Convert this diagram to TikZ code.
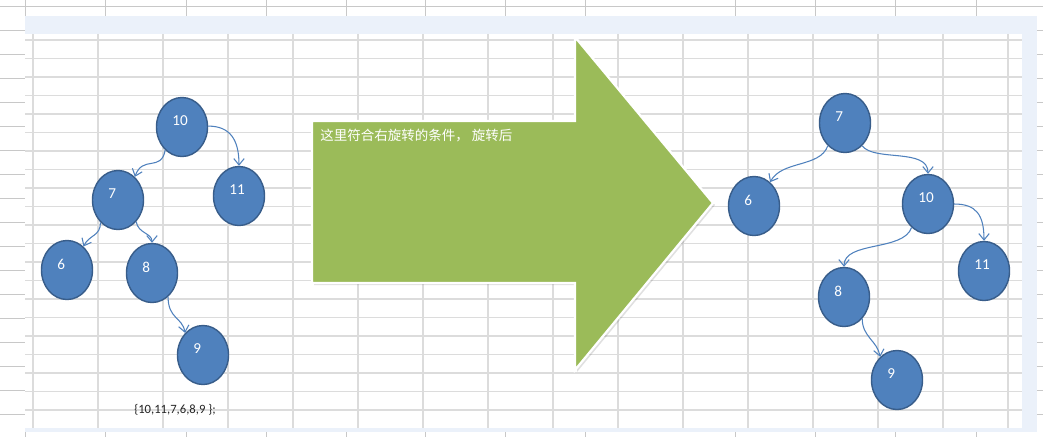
\documentclass[tikz,border=0pt]{standalone}
\usepackage{fontspec}
\setmainfont{Carlito}
\newfontfamily\cjkfont{Noto Sans CJK SC}
\usepackage{xcolor}
\usetikzlibrary{arrows.meta,positioning,shapes.geometric}
\definecolor{nodeblue}{HTML}{4F81BD}
\definecolor{nodeedge}{HTML}{385D8A}
\definecolor{arrowgreen}{HTML}{9BBB59}
\definecolor{gridline}{HTML}{DCDCDC}
\definecolor{sheetline}{HTML}{C8C8C8}
\definecolor{bandblue}{HTML}{EBF1FA}
\definecolor{listink}{HTML}{262626}
\tikzset{
  treenode/.style={ellipse,draw=nodeedge,fill=nodeblue,line width=1pt,
                   minimum width=1.275cm,minimum height=1.475cm,
                   text width=13.6pt,align=left,text depth=8.5pt,
                   text=white,font=\fontsize{10.8}{12}\selectfont},
  treeedge/.style={-{Straight Barb[length=1.6mm,width=2.6mm]},
                   line width=0.75pt,draw=nodeblue},
  bigarrow/.style={fill=arrowgreen,draw=white,line width=1.6pt,
                   line join=miter},
  notetext/.style={text=white,anchor=west,inner sep=0pt,
                   font=\cjkfont\fontsize{9.6}{11}\selectfont},
  listtext/.style={text=listink,inner sep=0pt,
                   font=\fontsize{9}{11}\selectfont},
  gridrule/.style={draw=gridline,line width=1pt},
  sheetrule/.style={draw=sheetline,line width=0.6pt}
}
\begin{document}
\begin{tikzpicture}[x=0.025cm,y=-0.025cm]
    \path[use as bounding box] (0,0) rectangle (1043,437);

    % sheet around the print area
    \foreach \gy in {6,30,...,414}
      \draw[sheetrule] (0,\gy) -- (1043,\gy);
    \foreach \gx in {25,105,186,266,346,425,505,585,735,815,895,976}
      \draw[sheetrule] (\gx,0) -- (\gx,437);
    \fill[bandblue] (25,16) rectangle (1037,432);
    \fill[white] (25,34) rectangle (1022,428);
    \foreach \k in {0,...,15}
      \draw[gridrule] ({33+65*\k},34) -- ({33+65*\k},428);
    \foreach \k in {0,...,20}
      \draw[gridrule] (25,{40+18.5*\k}) -- (1022,{40+18.5*\k});

    % tree before rotation
    \node[treenode] (l10) at (182,127) {10};
    \node[treenode] (l7)  at (118,200) {7};
    \node[treenode] (l11) at (239,196) {11};
    \node[treenode] (l6)  at (67,270)  {6};
    \node[treenode] (l8)  at (152,273) {8};
    \node[treenode] (l9)  at (203,355) {9};
    \draw[treeedge] (l10.234) .. controls +(-4,22) and +(8,-22) .. (l7.54);
    \draw[treeedge] (l10.2) .. controls +(22,0) and +(0,-26) .. (l11.90);
    \draw[treeedge] (l7.232) .. controls +(0,14) and +(6,-12) .. (l6.55);
    \draw[treeedge] (l7.310) .. controls +(2,12) and +(0,-10) .. (l8.90);
    \draw[treeedge] (l8.304) .. controls +(0,22) and +(-3,-16) .. (l9.129);
    \node[listtext] (order) at (175,410) {\{10,11,7,6,8,9 \};};

    % big arrow
    \fill[black,opacity=0.12] (314,123) -- (577,123) -- (577,39) -- (715,205)
      -- (577,372) -- (577,285) -- (314,285) -- cycle;
    \draw[bigarrow] (312,121) -- (575,121) -- (575,37) -- (713,203)
      -- (575,370) -- (575,283) -- (312,283) -- cycle;
    \node[notetext] (cond) at (320,136) {这里符合右旋转的条件， 旋转后};

    % tree after rotation
    \node[treenode] (r7)  at (845,123) {7};
    \node[treenode] (r6)  at (754,206) {6};
    \node[treenode] (r10) at (928,204) {10};
    \node[treenode] (r11) at (984,271) {11};
    \node[treenode] (r8)  at (844,297) {8};
    \node[treenode] (r9)  at (897,380) {9};
    \draw[treeedge] (r7.233) .. controls +(-8,22) and +(12,-22) .. (r6.56);
    \draw[treeedge] (r7.307) .. controls +(12,16) and +(0,-26) .. (r10.90);
    \draw[treeedge] (r10.0) .. controls +(22,0) and +(0,-26) .. (r11.90);
    \draw[treeedge] (r10.235) .. controls +(-8,24) and +(0,-26) .. (r8.90);
    \draw[treeedge] (r8.310) .. controls +(0,18) and +(-3,-16) .. (r9.126);
  \end{tikzpicture}
\end{document}
